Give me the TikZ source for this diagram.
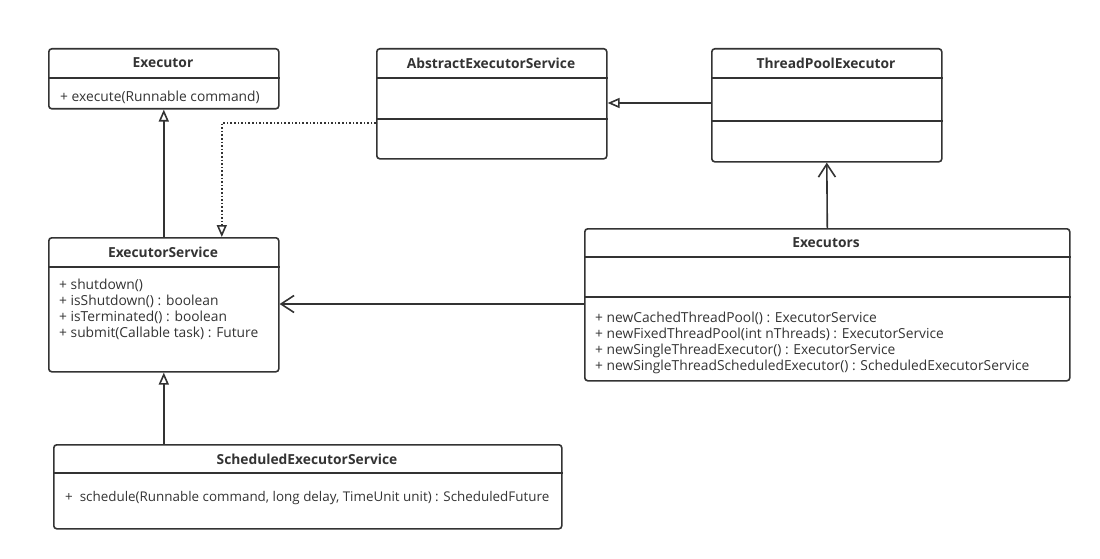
\documentclass[tikz,border=0pt]{standalone}
\usepackage{fontspec}
\setmainfont{Open Sans}
\usepackage{tikz}
\usetikzlibrary{arrows.meta}
\definecolor{umlink}{HTML}{333333}

\begin{document}
\begin{tikzpicture}[
  x=1pt, y=-1pt,
  font=\fontsize{13.8}{16}\selectfont,
  cls/.style={draw=umlink, line width=1.6pt, rounded corners=3pt, anchor=north west,
              inner sep=0pt, minimum width=230pt},
  ttl/.style={font=\fontsize{13.8}{16}\selectfont\bfseries, text=umlink, inner sep=0pt},
  mth/.style={anchor=west, text=umlink, inner sep=0pt},
  sep/.style={draw=umlink, line width=1.6pt},
  gen/.style={-{Triangle[open, length=12pt, width=10pt]}, draw=umlink, line width=1.6pt},
  real/.style={gen, dotted},
  assoc/.style={-{Straight Barb[length=13pt, width=17pt]}, draw=umlink, line width=1.6pt},
]
\useasboundingbox (0,0) rectangle (1100,559);

% interfaces
\node[cls, minimum height=60pt] (executor) at (48,48) {};
\node[ttl] (executor-t) at (163,63) {Executor};
\draw[sep] ([yshift=-30pt]executor.north west) -- ([yshift=-30pt]executor.north east);
\node[mth] (executor-m) at (60,97) {+ execute(Runnable command)};

\node[cls, minimum height=134pt] (esvc) at (48,237) {};
\node[ttl] (esvc-t) at (163,252) {ExecutorService};
\draw[sep] ([yshift=-30pt]esvc.north west) -- ([yshift=-30pt]esvc.north east);
\node[mth, align=left] (esvc-m) at (59,309) {+ shutdown()\\+ isShutdown() : boolean\\+ isTerminated() : boolean\\+ submit(Callable task) : Future};

\node[cls, minimum width=508pt, minimum height=84pt] (sched) at (53,444) {};
\node[ttl] (sched-t) at (307,459) {ScheduledExecutorService};
\draw[sep] ([yshift=-29pt]sched.north west) -- ([yshift=-29pt]sched.north east);
\node[mth, font=\fontsize{13.4}{16}\selectfont] (sched-m) at (65,498) {+\ \ schedule(Runnable command, long delay, TimeUnit unit) : ScheduledFuture};

% classes
\node[cls, minimum height=110pt] (abs) at (376,48) {};
\node[ttl] (abs-t) at (491,63) {AbstractExecutorService};
\draw[sep] ([yshift=-30pt]abs.north west) -- ([yshift=-30pt]abs.north east);
\draw[sep] ([yshift=-71pt]abs.north west) -- ([yshift=-71pt]abs.north east);

\node[cls, minimum height=113pt] (tpe) at (711,48) {};
\node[ttl] (tpe-t) at (826,63) {ThreadPoolExecutor};
\draw[sep] ([yshift=-30pt]tpe.north west) -- ([yshift=-30pt]tpe.north east);
\draw[sep] ([yshift=-73pt]tpe.north west) -- ([yshift=-73pt]tpe.north east);

\node[cls, minimum width=485pt, minimum height=152pt] (execs) at (584,228) {};
\node[ttl] (execs-t) at (826,243) {Executors};
\draw[sep] ([yshift=-29pt]execs.north west) -- ([yshift=-29pt]execs.north east);
\draw[sep] ([yshift=-69pt]execs.north west) -- ([yshift=-69pt]execs.north east);
\node[mth, align=left] (execs-m) at (595,343) {+ newCachedThreadPool() : ExecutorService\\+ newFixedThreadPool(int nThreads) : ExecutorService\\+ newSingleThreadExecutor() : ExecutorService\\+ newSingleThreadScheduledExecutor() : ScheduledExecutorService};

% relations
\draw[gen] (esvc.north) -- (executor.south);
\draw[gen] (sched.north -| esvc.south) -- (esvc.south);
\draw[gen] ([yshift=-55pt]tpe.north west) -- ([yshift=-55pt]abs.north east);
\draw[real] ([yshift=-75pt]abs.north west) -| ([xshift=58pt]esvc.north);
\draw[assoc] ([yshift=-76pt]execs.north west) -- ([yshift=-67pt]esvc.north east);
\draw[assoc] (execs.north) -- (tpe.south);
\end{tikzpicture}
\end{document}
